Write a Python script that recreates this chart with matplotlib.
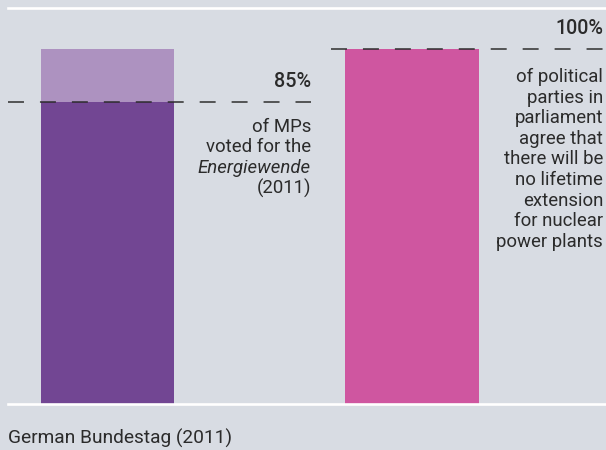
import matplotlib
matplotlib.use("Agg")
import matplotlib.pyplot as plt
from matplotlib.lines import Line2D

# values
bar_labels = ["MPs", "parties"]
bar_totals = [100, 100]
mps_share = 85
party_share = 100

left_note = ["of MPs", "voted for the", "Energiewende", "(2011)"]
right_note = ["of political", "parties in", "parliament", "agree that",
              "there will be", "no lifetime", "extension", "for nuclear",
              "power plants"]
source = "German Bundestag (2011)"

bg = "#d8dce3"
dark_purple = "#724693"
light_purple = "#ad92c0"
pink = "#cf56a0"
text_col = "#2b2b2b"

plt.rcParams["font.family"] = ["Roboto", "DejaVu Sans"]

W, H = 606, 450
fig = plt.figure(figsize=(W / 100, H / 100), dpi=100, facecolor=bg)

# axes span from x=8px to right edge, y from 48.5px to 404px
ax = fig.add_axes([8 / W, (H - 404) / H, 598 / W, (404 - 48.5) / H])
ax.set_facecolor(bg)
for s in ax.spines.values():
    s.set_visible(False)
ax.set_xticks([])
ax.set_yticks([])

unit = 304.5
ax.set_xlim((8 - 107.5) / unit, (606 - 107.5) / unit)
ax.set_ylim(0, 100)
bw = 133 / unit

# purple bar: light total + dark share
ax.bar(0, bar_totals[0], width=bw, color=light_purple, zorder=2)
ax.bar(0, mps_share, width=bw, color=dark_purple, zorder=3)
ax.bar(1, party_share, width=bw, color=pink, zorder=2)

lw = 1.08
dash = (0, (11.5 / lw, 11.5 / lw))
ax.axhline(mps_share, xmin=0, xmax=(311 - 8) / 598, color=text_col,
           lw=lw, ls=dash, zorder=4)
ax.axhline(party_share, xmin=(330.5 - 8) / 598, xmax=1, color=text_col,
           lw=lw, ls=dash, zorder=4, clip_on=False)

# white rules top and bottom
ax.axhline(0, color="white", lw=1.9, zorder=5, clip_on=False)
fig.add_artist(Line2D([8 / W, 1], [1 - 7.5 / H, 1 - 7.5 / H],
                      color="white", lw=1.9))

def fy(py):
    return 1 - py / H

fs = 13.4
fig.text(311 / W, fy(81.7), f"{mps_share}%", ha="right", va="center",
         fontsize=14.2, fontweight="medium", color=text_col)
fig.text(603 / W, fy(28), f"{party_share}%", ha="right", va="center",
         fontsize=14.2, fontweight="medium", color=text_col)

for i, line in enumerate(left_note):
    fig.text(311 / W, fy(127 + i * 20.5), line, ha="right", va="center",
             fontsize=fs, color=text_col,
             style="italic" if line == "Energiewende" else "normal")

for i, line in enumerate(right_note):
    fig.text(603 / W, fy(77 + i * 20.6), line, ha="right", va="center",
             fontsize=fs, color=text_col)

fig.text(8 / W, fy(438.5), source, ha="left", va="center",
         fontsize=13.8, color=text_col)

fig.savefig("out.png", dpi=100, facecolor=bg)
